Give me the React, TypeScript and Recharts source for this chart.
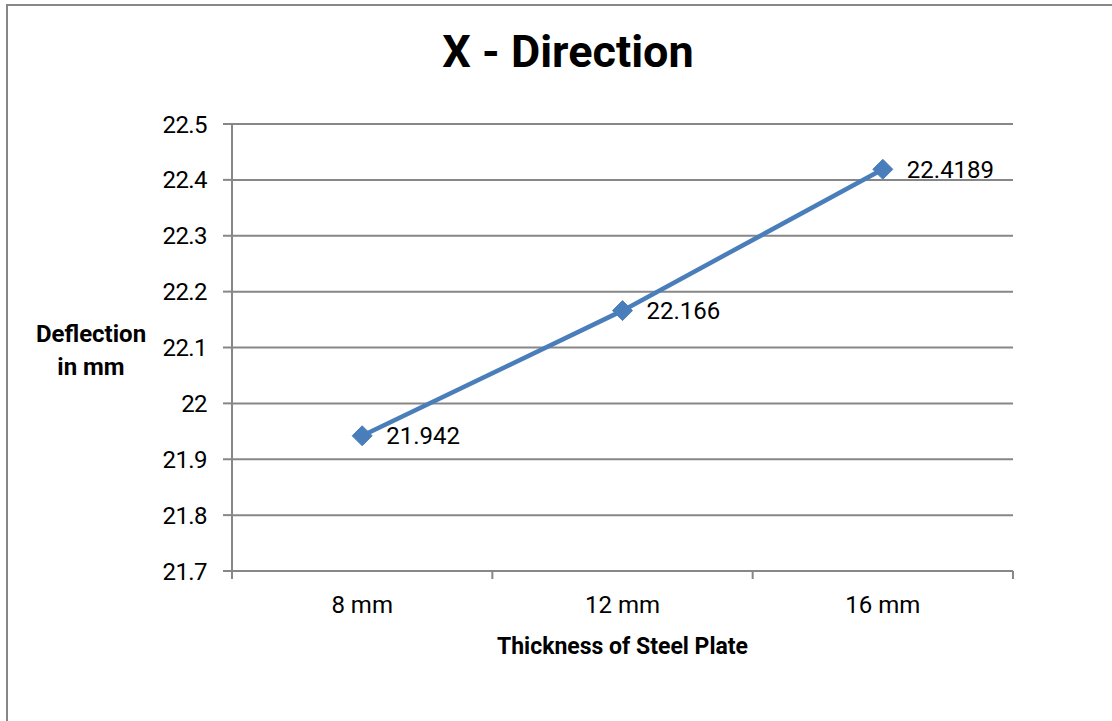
import React from "react";
import {
  LineChart,
  Line,
  XAxis,
  YAxis,
  CartesianGrid,
  LabelList,
} from "recharts";

const categories = ["8 mm", "12 mm", "16 mm"];
const deflection = [21.942, 22.166, 22.4189];
const yTicks = [21.7, 21.8, 21.9, 22, 22.1, 22.2, 22.3, 22.4, 22.5];

const data = categories.map((name, i) => ({ name, value: deflection[i] }));

const FONT = "Roboto, sans-serif";
const GRID = "#878787";
const BLUE = "#4a7ebb";
const X_TICK_SIZE = 8;
const X_TICK_MARGIN = 17;

const Diamond = (props: any) => {
  const { cx, cy } = props;
  if (cx == null || cy == null) return null;
  const r = 10;
  return (
    <path
      d={`M${cx},${cy - r} L${cx + r},${cy} L${cx},${cy + r} L${cx - r},${cy} Z`}
      fill={BLUE}
      stroke={BLUE}
    />
  );
};

// category ticks: label in the middle, tick marks at the band edges
const XTick = (props: any) => {
  const { x, y, payload, index, visibleTicksCount } = props;
  const half = payload.offset ?? 0;
  const axisY = y - X_TICK_SIZE - X_TICK_MARGIN;
  return (
    <g>
      <line x1={x - half} x2={x - half} y1={axisY} y2={axisY + X_TICK_SIZE} stroke={GRID} strokeWidth={2} />
      {index === visibleTicksCount - 1 && (
        <line x1={x + half} x2={x + half} y1={axisY} y2={axisY + X_TICK_SIZE} stroke={GRID} strokeWidth={2} />
      )}
      <text x={x} y={y} dy="0.71em" textAnchor="middle" fontSize={24} fill="#000" fontFamily={FONT}>
        {payload.value}
      </text>
    </g>
  );
};

const YLabel = (props: any) => {
  const { viewBox } = props;
  const cx = viewBox.x + 91;
  const cy = viewBox.y + viewBox.height / 2;
  return (
    <text textAnchor="middle" fontSize={24} fontWeight="bold" fill="#000" fontFamily={FONT}>
      <tspan x={cx} y={cy - 6}>Deflection</tspan>
      <tspan x={cx} y={cy + 27}>in mm</tspan>
    </text>
  );
};

const App: React.FC = () => (
  <div style={{ position: "absolute", left: 0, top: 0, width: 1112, height: 721, background: "#fff", overflow: "hidden" }}>
    <div
      style={{
        position: "absolute",
        left: 6,
        top: 4,
        width: 1120,
        height: 730,
        borderLeft: `2px solid ${GRID}`,
        borderTop: `2px solid ${GRID}`,
      }}
    />
    <div
      style={{
        position: "absolute",
        left: 0,
        top: 26,
        width: 1136,
        textAlign: "center",
        fontFamily: FONT,
        fontWeight: "bold",
        fontSize: 45,
        lineHeight: "52px",
        color: "#000",
      }}
    >
      X - Direction
    </div>
    <LineChart
      width={1112}
      height={721}
      data={data}
      margin={{ top: 124, right: 99, bottom: 110, left: 0 }}
      style={{ position: "absolute", left: 0, top: 0 }}
    >
      <CartesianGrid vertical={false} stroke={GRID} strokeWidth={2} />
      <XAxis
        dataKey="name"
        scale="band"
        height={40}
        tickSize={X_TICK_SIZE}
        tickMargin={X_TICK_MARGIN}
        tickLine={false}
        axisLine={{ stroke: GRID, strokeWidth: 2 }}
        tick={<XTick />}
        interval={0}
        label={{
          value: "Thickness of Steel Plate",
          position: "insideBottom",
          offset: -43,
          fontSize: 23,
          fontWeight: "bold",
          fill: "#000",
          fontFamily: FONT,
        }}
      />
      <YAxis
        width={232}
        domain={[21.7, 22.5]}
        ticks={yTicks}
        interval={0}
        tickSize={9}
        tickMargin={16}
        tickLine={{ stroke: GRID, strokeWidth: 2 }}
        axisLine={{ stroke: GRID, strokeWidth: 2 }}
        tick={{ fontSize: 24, fill: "#000", fontFamily: FONT, letterSpacing: -0.6 }}
        label={<YLabel />}
      />
      <Line
        type="linear"
        dataKey="value"
        stroke={BLUE}
        strokeWidth={4.5}
        dot={<Diamond />}
        activeDot={false}
        isAnimationActive={false}
      >
        <LabelList
          dataKey="value"
          position="right"
          offset={24}
          fontSize={24}
          fill="#000"
          fontFamily={FONT}
        />
      </Line>
    </LineChart>
  </div>
);

export default App;
